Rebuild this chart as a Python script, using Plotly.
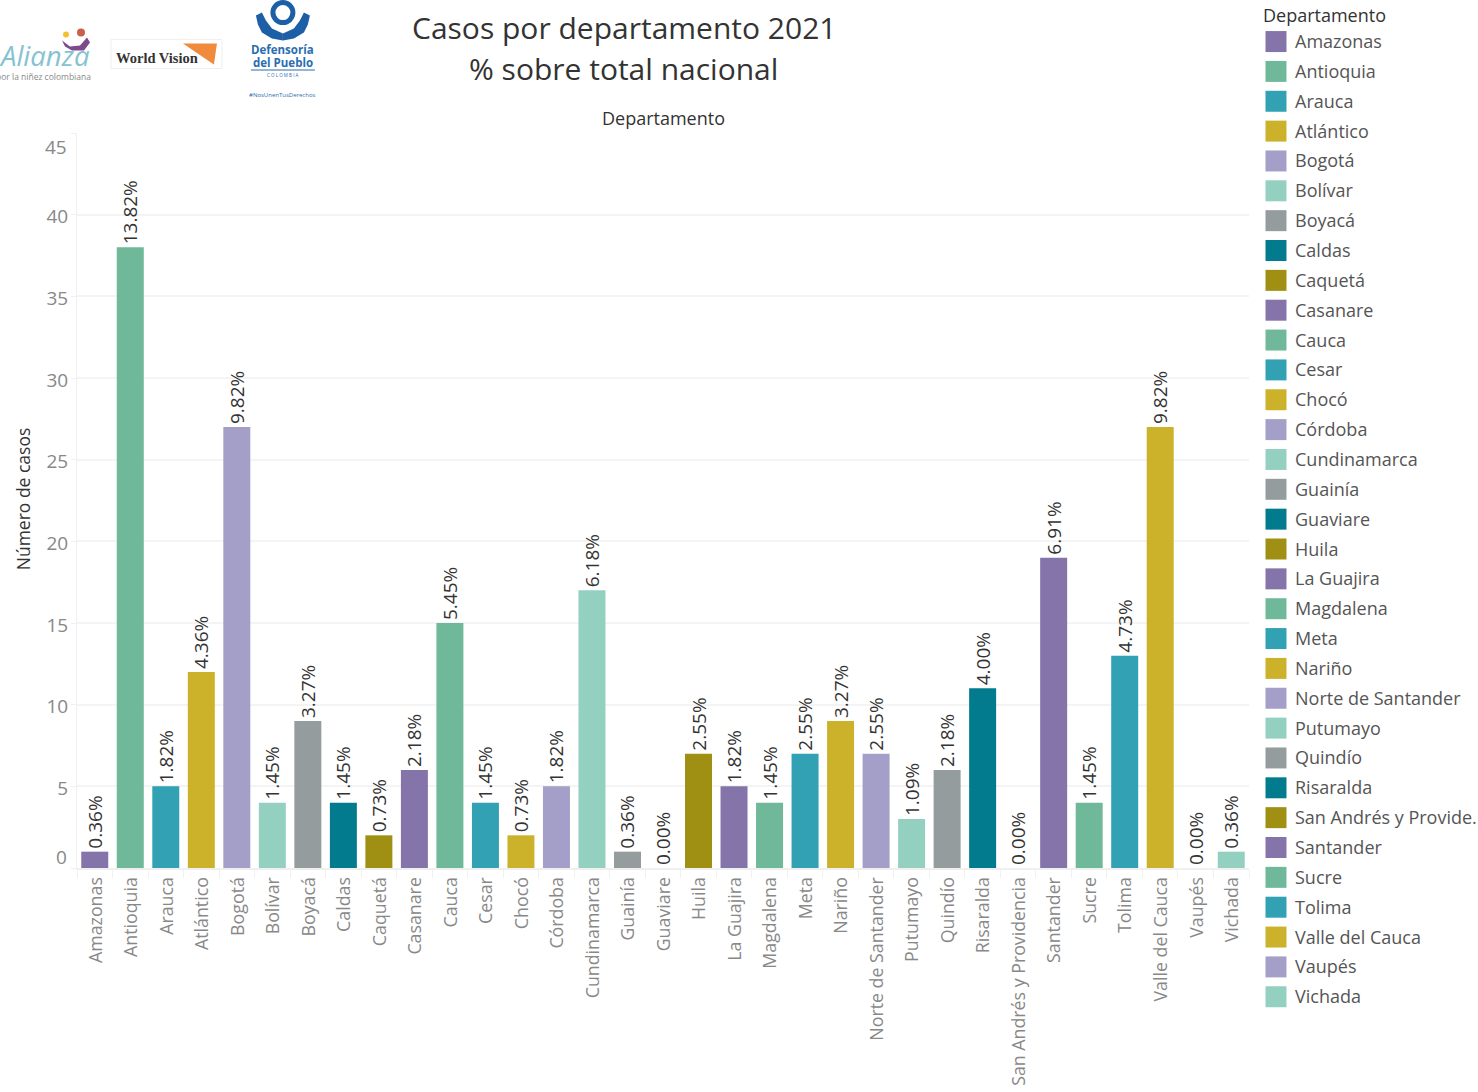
import plotly.graph_objects as go

departamentos = ["Amazonas","Antioquia","Arauca","Atlántico","Bogotá","Bolívar","Boyacá","Caldas","Caquetá","Casanare",
    "Cauca","Cesar","Chocó","Córdoba","Cundinamarca","Guainía","Guaviare","Huila","La Guajira","Magdalena",
    "Meta","Nariño","Norte de Santander","Putumayo","Quindío","Risaralda","San Andrés y Providencia","Santander",
    "Sucre","Tolima","Valle del Cauca","Vaupés","Vichada"]
etiquetas_leyenda = [d.replace("San Andrés y Providencia", "San Andrés y Provide.") for d in departamentos]
casos = [1,38,5,12,27,4,9,4,2,6,15,4,2,5,17,1,0,7,5,4,7,9,7,3,6,11,0,19,4,13,27,0,1]
porcentajes = ["0.36%","13.82%","1.82%","4.36%","9.82%","1.45%","3.27%","1.45%","0.73%","2.18%","5.45%","1.45%","0.73%",
    "1.82%","6.18%","0.36%","0.00%","2.55%","1.82%","1.45%","2.55%","3.27%","2.55%","1.09%","2.18%","4.00%","0.00%",
    "6.91%","1.45%","4.73%","9.82%","0.00%","0.36%"]
paleta = ["#8474a9","#6fb899","#31a1b3","#ccb22b","#a39fc9","#94d0c0","#959c9e","#027b8e","#9f8f12"]
yticks = [0,5,10,15,20,25,30,35,40,45]

FONT = "Open Sans"
W, H = 1478, 1092
PL, PR, PT, PB = 77, 1249.5, 132.5, 868
px = lambda x: (x - PL) / (PR - PL)
py = lambda y: (PB - y) / (PB - PT)
colores = [paleta[i % len(paleta)] for i in range(len(departamentos))]

fig = go.Figure(go.Bar(
    x=departamentos, y=casos, marker=dict(color=colores, line_width=0), width=0.76,
    text=porcentajes, textposition="outside", textangle=-90, cliponaxis=False,
    constraintext="none", textfont=dict(family=FONT, size=19, color="#333333"),
    showlegend=False, hoverinfo="x+y"))

ann, shp = [], []
def text(x, y, t, size, color="#333333", anchor="center", **kw):
    ann.append(dict(x=px(x), y=py(y), xref="paper", yref="paper", text=t, showarrow=False, xanchor=anchor,
                    yanchor="middle", font=dict(family=kw.pop("family", FONT), size=size, color=color), **kw))
def rect(x0, y0, x1, y1, fill, line=None):
    shp.append(dict(type="rect", xref="paper", yref="paper", x0=px(x0), x1=px(x1), y0=py(y0), y1=py(y1),
                    fillcolor=fill, line=dict(width=1 if line else 0, color=line or fill), layer="above"))
def circle(cx, cy, r, fill, line=None, lw=0):
    shp.append(dict(type="circle", xref="paper", yref="paper", x0=px(cx-r), x1=px(cx+r), y0=py(cy+r), y1=py(cy-r),
                    fillcolor=fill, line=dict(width=lw, color=line or fill), layer="above"))
def poly(points, fill):
    d = "M" + " L".join(f"{px(a):.5f},{py(b):.5f}" for a, b in points) + " Z"
    shp.append(dict(type="path", xref="paper", yref="paper", path=d, fillcolor=fill, line=dict(width=0), layer="above"))

# titles
text(624, 27, "Casos por departamento 2021", 30)
text(624, 68, "% sobre total nacional", 30)
text(664, 117, "Departamento", 18)
text(23, 499, "Número de casos", 17.5, textangle=-90)

# end labels of the value axis sit inside the plot band
ann.append(dict(x=0, xref="paper", y=0, yref="y", text="0", showarrow=False, xanchor="right", yanchor="middle",
                xshift=-8, yshift=11, font=dict(family=FONT, size=19, color="#888888")))
ann.append(dict(x=0, xref="paper", y=45, yref="y", text="45", showarrow=False, xanchor="right", yanchor="middle",
                xshift=-8, yshift=-14, font=dict(family=FONT, size=19, color="#888888")))

# legend
text(1262, 14, "Departamento", 18, anchor="left")
for i, (d, c) in enumerate(zip(etiquetas_leyenda, colores)):
    yc = 41 + i * 29.87
    rect(1266, yc - 10.5, 1287, yc + 10.5, c)
    text(1294, yc - 0.5, d, 18, color="#555555", anchor="left")

# logo: Alianza
circle(66, 34, 3, "#f2c230")
circle(81, 32, 4, "#c9604a")
poly([(62,40),(70,46),(80,45),(87,37),(90,42),(84,50),(72,50),(65,46)], "#7d4a8c")
text(44, 55, "<i>Alianza</i>", 27.5, color="#86c3d2")
text(43, 76, "por la niñez colombiana", 8.5, color="#8a8a8a")
# logo: World Vision
rect(111, 39, 222, 68, "#ffffff", "#eeeeee")
poly([(183,43),(217,43),(214,64)], "#f08a3c")
text(157, 57.5, "<b>World Vision</b>", 14.5, color="#333333", family="Liberation Serif")
# logo: Defensoria
circle(283, 12, 10, "#ffffff", "#1d5fa6", 5)
poly([(256,15),(262,12),(266,20),(272,28),(283,33),(283,40),(272,38),(262,32),(258,24)], "#1d5fa6")
poly([(310,15),(304,12),(300,20),(294,28),(283,33),(283,40),(294,38),(304,32),(308,24)], "#1d5fa6")
text(283, 48.5, "<b>Defensoría</b>", 11.5, color="#2a6db0")
text(283, 62, "<b>del Pueblo</b>", 11.5, color="#2a6db0")
rect(251, 69, 315, 70, "#2a6db0")
text(283, 74, "C O L O M B I A", 4.5, color="#2a6db0")
text(283, 94, "#NosUnenTusDerechos", 6, color="#2a6db0")

fig.update_layout(
    width=W, height=H, autosize=False, paper_bgcolor="white", plot_bgcolor="white",
    margin=dict(l=PL, r=W-PR, t=PT, b=H-PB, pad=0),
    font=dict(family=FONT), annotations=ann, shapes=shp, bargap=0.24,
    xaxis=dict(type="category", tickson="boundaries", tickangle=-90, ticks="outside", ticklen=8, tickcolor="#f0f0f0",
               showgrid=False, showline=True, linecolor="#f0f0f0", linewidth=2, ticklabelshift=1,
               tickfont=dict(family=FONT, size=17.8, color="#888888"), automargin=False),
    yaxis=dict(range=[0,45], tickvals=yticks, ticktext=[""]+[str(v) for v in yticks[1:-1]]+[""],
               ticks="outside", ticklen=5, ticklabelstandoff=-1, ticklabelshift=2, tickcolor="#f0f0f0", showgrid=True, gridcolor="#f4f4f4", gridwidth=2, zeroline=False,
               showline=True, linecolor="#f0f0f0", tickfont=dict(family=FONT, size=19, color="#888888"), automargin=False),
)
# remove the browser's default page margin so the figure starts at the window corner
fig.write_html("out.html", config=dict(displayModeBar=False),
               post_script="document.body.style.margin='0';document.documentElement.style.overflow='hidden';")
